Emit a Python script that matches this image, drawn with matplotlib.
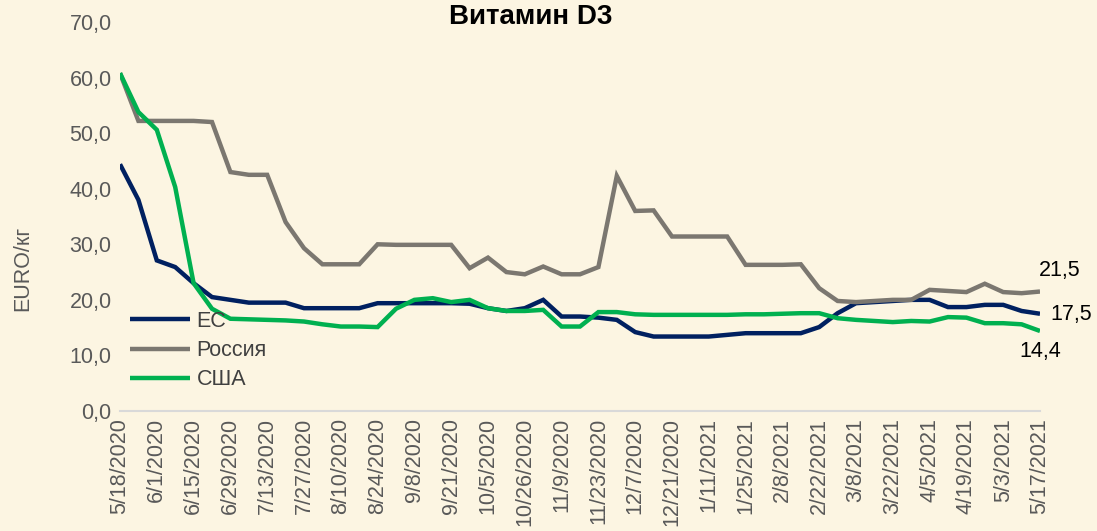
import matplotlib
matplotlib.use("Agg")
import matplotlib.pyplot as plt

plt.rcParams["font.family"] = ["Liberation Sans", "DejaVu Sans"]

dates = ["5/18/2020", "5/25/2020", "6/1/2020", "6/8/2020", "6/15/2020", "6/22/2020",
         "6/29/2020", "7/6/2020", "7/13/2020", "7/20/2020", "7/27/2020", "8/3/2020",
         "8/10/2020", "8/17/2020", "8/24/2020", "8/31/2020", "9/8/2020", "9/14/2020",
         "9/21/2020", "9/28/2020", "10/5/2020", "10/12/2020", "10/26/2020", "11/2/2020",
         "11/9/2020", "11/16/2020", "11/23/2020", "11/30/2020", "12/7/2020", "12/14/2020",
         "12/21/2020", "12/28/2020", "1/11/2021", "1/18/2021", "1/25/2021", "2/1/2021",
         "2/8/2021", "2/15/2021", "2/22/2021", "3/1/2021", "3/8/2021", "3/15/2021",
         "3/22/2021", "3/29/2021", "4/5/2021", "4/12/2021", "4/19/2021", "4/26/2021",
         "5/3/2021", "5/10/2021", "5/17/2021"]

eu = [44.4, 38.0, 27.1, 25.9, 23.0, 20.5, 20.0, 19.5, 19.5, 19.5, 18.5, 18.5,
      18.5, 18.5, 19.4, 19.4, 19.4, 19.4, 19.4, 19.3, 18.5, 18.0, 18.5, 20.0,
      17.0, 17.0, 16.8, 16.4, 14.2, 13.4, 13.4, 13.4, 13.4, 13.7, 14.0, 14.0,
      14.0, 14.0, 15.1, 17.6, 19.4, 19.6, 19.8, 20.0, 20.0, 18.7, 18.7, 19.1,
      19.1, 18.0, 17.5]

russia = [60.8, 52.2, 52.2, 52.2, 52.2, 52.0, 43.0, 42.5, 42.5, 34.0, 29.3, 26.4,
          26.4, 26.4, 30.0, 29.9, 29.9, 29.9, 29.9, 25.7, 27.6, 25.0, 24.6, 26.0,
          24.6, 24.6, 25.9, 42.3, 36.0, 36.1, 31.4, 31.4, 31.4, 31.4, 26.3, 26.3,
          26.3, 26.4, 22.1, 19.8, 19.6, 19.8, 20.0, 20.0, 21.8, 21.6, 21.4, 22.9,
          21.4, 21.2, 21.5]

usa = [60.8, 53.8, 50.6, 40.3, 23.0, 18.4, 16.6, 16.5, 16.4, 16.3, 16.1, 15.6,
       15.2, 15.2, 15.1, 18.4, 20.0, 20.3, 19.6, 20.0, 18.5, 18.0, 18.0, 18.2,
       15.2, 15.2, 17.8, 17.8, 17.4, 17.3, 17.3, 17.3, 17.3, 17.3, 17.4, 17.4,
       17.5, 17.6, 17.6, 16.7, 16.4, 16.2, 16.0, 16.2, 16.1, 16.9, 16.8, 15.8,
       15.8, 15.6, 14.4]

series_names = ["ЕС", "Россия", "США"]
colors = ["#002060", "#7b7770", "#00b050"]

bg = "#fcf5e2"
W, H = 1097, 531
fig = plt.figure(figsize=(W / 100, H / 100), dpi=100, facecolor=bg)
ax = fig.add_axes([120 / W, (H - 411) / H, 920 / W, 389 / H])
ax.set_facecolor(bg)

x = list(range(len(dates)))
for vals, name, col in zip([eu, russia, usa], series_names, colors):
    ax.plot(x, vals, color=col, lw=3.2, label=name, solid_joinstyle="miter",
            solid_capstyle="butt", zorder=3)

ax.set_xlim(0, len(dates) - 1)
ax.set_ylim(0, 70)
ax.set_yticks(range(0, 71, 10))
ax.set_yticklabels([f"{v},0" for v in range(0, 71, 10)], color="#595959", fontsize=15.5)
ax.set_xticks(x[::2])
ax.set_xticklabels(dates[::2], rotation=90, color="#595959", fontsize=15.5)
ax.tick_params(axis="y", length=0, pad=6)
ax.tick_params(axis="x", length=0, pad=5)

for s in ["top", "right", "left"]:
    ax.spines[s].set_visible(False)
ax.spines["bottom"].set_color("#d9d9d9")
ax.spines["bottom"].set_linewidth(1.5)

fig.text(23 / W, 1 - 268 / H, "EURO/кг", rotation=90, ha="center", va="center",
         color="#595959", fontsize=15.5)
fig.text(531 / W, 1 - 24 / H, "Витамин D3", ha="center", va="baseline",
         fontsize=20, fontweight="bold", color="black")

leg = fig.legend(*ax.get_legend_handles_labels(), loc="upper left",
                 bbox_to_anchor=(130 / W, 1 - 311 / H), frameon=False,
                 fontsize=15.5, handlelength=2.8, handletextpad=0.3, labelspacing=0.38,
                 borderpad=0, borderaxespad=0)
for t in leg.get_texts():
    t.set_color("#404040")

last = len(dates) - 1
fmt = lambda v: f"{v:.1f}".replace(".", ",")
ax.annotate(fmt(russia[-1]), (last, russia[-1]), xytext=(14.5, 15),
            textcoords="offset points", fontsize=15.5, color="black", ha="center", va="center")
ax.annotate(fmt(eu[-1]), (last, eu[-1]), xytext=(22.5, -0.5),
            textcoords="offset points", fontsize=15.5, color="black", ha="center", va="center")
ax.annotate(fmt(usa[-1]), (last, usa[-1]), xytext=(0, -15),
            textcoords="offset points", fontsize=15.5, color="black", ha="center", va="center")

fig.savefig("out.png", dpi=100, facecolor=bg)
